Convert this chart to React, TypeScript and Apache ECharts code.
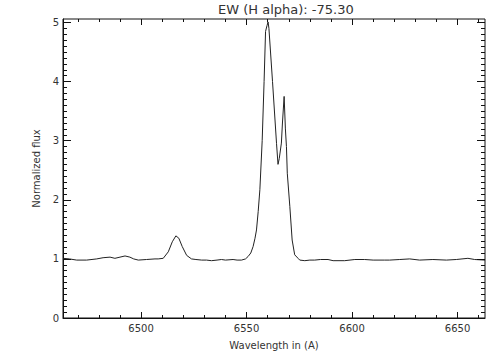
import React, { useEffect, useRef } from "react";
import * as echarts from "echarts";

const wavelength = [
  6463.0, 6466.0, 6469.5, 6474.2, 6479.0, 6482.0, 6485.3, 6487.6, 6490.0, 6492.4,
  6494.7, 6496.5, 6498.7, 6502.6, 6506.6, 6508.1, 6510.5, 6512.9, 6514.8, 6516.5,
  6517.9, 6519.5, 6521.6, 6523.9, 6526.0, 6528.7, 6531.0, 6533.4, 6536.0, 6538.1,
  6540.0, 6543.6, 6545.5, 6547.6, 6549.5, 6550.7, 6552.0, 6553.1, 6554.0, 6554.7,
  6555.5, 6556.3, 6557.4, 6558.3, 6559.0, 6559.7, 6560.2, 6560.6, 6562.3, 6564.2,
  6564.9, 6565.5, 6566.5, 6567.0, 6567.8, 6568.4, 6568.9, 6569.3, 6570.5, 6571.6,
  6572.8, 6574.4, 6575.2, 6577.6, 6580.0, 6582.3, 6585.0, 6588.6, 6591.0, 6596.5,
  6601.3, 6606.0, 6610.0, 6615.5, 6617.8, 6622.6, 6627.3, 6632.0, 6638.3, 6644.7,
  6649.4, 6654.9, 6658.1, 6663.0,
];
const flux = [
  1.01, 1.0, 0.98, 0.98, 1.0, 1.02, 1.03, 1.01, 1.03, 1.05,
  1.03, 1.0, 0.98, 0.99, 1.0, 1.0, 1.01, 1.12, 1.29, 1.39,
  1.35, 1.21, 1.06, 1.0, 0.99, 0.98, 0.98, 0.97, 0.98, 0.99,
  0.98, 0.99, 0.98, 0.98, 1.0, 1.04, 1.1, 1.21, 1.35, 1.49,
  1.8, 2.17, 3.0, 4.0, 4.85, 4.95, 5.01, 4.9, 4.0, 2.95,
  2.6, 2.7, 2.96, 3.3, 3.75, 3.2, 2.9, 2.45, 1.89, 1.32,
  1.07, 1.01, 0.98, 0.97, 0.98, 0.98, 0.99, 0.99, 0.97, 0.97,
  0.99, 0.99, 0.98, 0.98, 0.98, 0.99, 1.0, 0.98, 0.99, 0.98,
  0.99, 1.01, 0.99, 0.98,
];

const xMajorTicks = [6500, 6550, 6600, 6650];
const yMajorTicks = [0, 1, 2, 3, 4, 5];
const titleText = "EW (H alpha): -75.30";
const xName = "Wavelength in (A)";
const yName = "Normalized flux";

const X_MIN = 6463;
const X_MAX = 6663;
const Y_MIN = 0;
const Y_MAX = 5.06;

const xMinorTicks: number[] = [];
for (let v = 6470; v <= 6660; v += 10) if (v % 50 !== 0) xMinorTicks.push(v);
const yMinorTicks: number[] = [];
for (let i = 1; i <= 50; i++) if (i % 10 !== 0) yMinorTicks.push(i / 10);

const FONT = "DejaVu Sans";
const INK = "#111";
const TXT = "#333";

// tick lengths in pixels, converted to data units through the axis scale
const PX_PER_X = 422 / (X_MAX - X_MIN);
const PX_PER_Y = 299 / (Y_MAX - Y_MIN);

function xTickLines(ticks: number[], lenPx: number) {
  const d = lenPx / PX_PER_Y;
  const out: any[] = [];
  ticks.forEach((v) => {
    out.push([{ coord: [v, Y_MIN] }, { coord: [v, Y_MIN + d] }]);
    out.push([{ coord: [v, Y_MAX] }, { coord: [v, Y_MAX - d] }]);
  });
  return out;
}
function yTickLines(ticks: number[], lenPx: number) {
  const d = lenPx / PX_PER_X;
  const out: any[] = [];
  ticks.forEach((v) => {
    out.push([{ coord: [X_MIN, v] }, { coord: [X_MIN + d, v] }]);
    out.push([{ coord: [X_MAX, v] }, { coord: [X_MAX - d, v] }]);
  });
  return out;
}

export default function App() {
  const ref = useRef<HTMLDivElement>(null);
  useEffect(() => {
    if (!ref.current) return;
    const chart = echarts.init(ref.current, null, { renderer: "svg" });
    const data = wavelength.map((w, i) => [w, flux[i]]);
    const tickData = [
      ...xTickLines(xMajorTicks, 6),
      ...xTickLines(xMinorTicks, 3),
      ...yTickLines(yMajorTicks, 8),
      ...yTickLines(yMinorTicks, 4),
    ];
    chart.setOption({
      animation: false,
      backgroundColor: "#fff",
      title: {
        text: titleText,
        left: 218,
        top: 3,
        padding: 0,
        textStyle: { color: TXT, fontFamily: FONT, fontSize: 13, fontWeight: "normal" },
      },
      grid: {
        left: 63,
        right: 19,
        top: 19,
        bottom: 42,
        containLabel: false,
        show: true,
        borderColor: INK,
        borderWidth: 1,
        backgroundColor: "transparent",
      },
      xAxis: {
        type: "value",
        min: X_MIN,
        max: X_MAX,
        axisLine: { show: true, onZero: false, lineStyle: { color: INK, width: 1 } },
        axisTick: { show: false },
        axisLabel: {
          show: true,
          customValues: xMajorTicks,
          formatter: (v: number) => String(v),
          margin: 5,
          color: TXT,
          fontFamily: FONT,
          fontSize: 10,
        },
        splitLine: { show: false },
        name: xName,
        nameLocation: "middle",
        nameGap: 22,
        nameTextStyle: { color: TXT, fontFamily: FONT, fontSize: 10 },
      },
      yAxis: {
        type: "value",
        min: Y_MIN,
        max: Y_MAX,
        axisLine: { show: true, onZero: false, lineStyle: { color: INK, width: 1 } },
        axisTick: { show: false },
        axisLabel: {
          show: true,
          customValues: yMajorTicks,
          formatter: (v: number) => String(v),
          margin: 4,
          color: TXT,
          fontFamily: FONT,
          fontSize: 10,
        },
        splitLine: { show: false },
        name: yName,
        nameLocation: "middle",
        nameGap: 18,
        nameRotate: 90,
        nameTextStyle: { color: TXT, fontFamily: FONT, fontSize: 10 },
      },
      series: [
        {
          type: "line",
          xAxisIndex: 0,
          yAxisIndex: 0,
          data,
          showSymbol: false,
          smooth: false,
          clip: true,
          lineStyle: { color: "#222", width: 1 },
          markLine: {
            silent: true,
            symbol: ["none", "none"],
            label: { show: false },
            lineStyle: { color: INK, width: 1, type: "solid" },
            emphasis: { disabled: true },
            data: tickData,
          },
        },
      ],
    });
    return () => chart.dispose();
  }, []);
  return (
    <div
      ref={ref}
      style={{ position: "fixed", left: 0, top: 0, width: 504, height: 360, background: "#fff" }}
    />
  );
}
